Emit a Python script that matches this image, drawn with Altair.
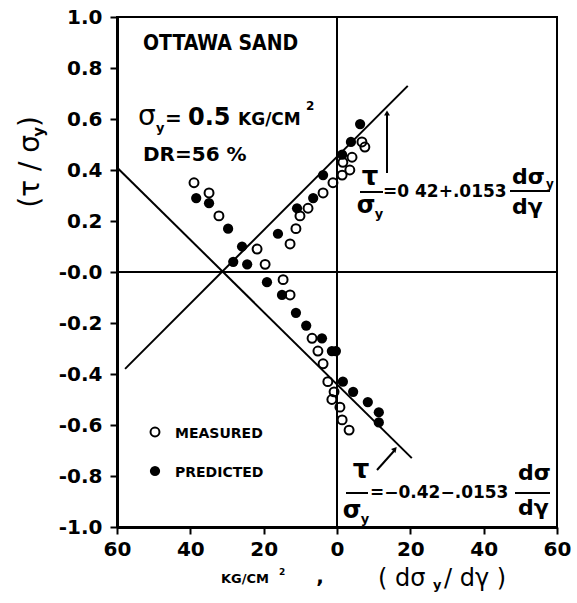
import altair as alt
import pandas as pd

# ---- data ----
meas_x = [-39.0, -34.9, -32.2, -21.8, -19.6, -12.8, -11.2, -10.1, -7.9, -3.8, -1.1, 1.4, 1.6, 3.5, 4.1, 6.8, 7.6,
          -14.7, -12.8, -6.8, -5.2, -3.8, -2.5, -0.8, -1.4, 0.8, 1.4, 3.3]
meas_y = [0.35, 0.31, 0.22, 0.09, 0.03, 0.11, 0.17, 0.22, 0.25, 0.31, 0.35, 0.38, 0.43, 0.40, 0.45, 0.51, 0.49,
          -0.03, -0.09, -0.26, -0.31, -0.36, -0.43, -0.47, -0.50, -0.53, -0.58, -0.62]
pred_x = [-38.4, -34.9, -29.7, -25.9, -28.3, -24.5, -16.1, -10.9, -6.5, -3.8, 1.4, 3.8, 6.3,
          -19.1, -15.0, -11.2, -8.4, -4.1, -1.4, -0.3, 1.6, 4.4, 8.4, 11.4, 11.4]
pred_y = [0.29, 0.27, 0.17, 0.10, 0.04, 0.03, 0.15, 0.25, 0.29, 0.38, 0.46, 0.51, 0.58,
          -0.04, -0.09, -0.16, -0.21, -0.26, -0.31, -0.31, -0.43, -0.47, -0.51, -0.55, -0.59]
upper_x = [-57.8, 19.3]
upper_y = [-0.38, 0.73]
lower_x = [-60.0, 20.4]
lower_y = [0.41, -0.73]
x_ticks = [-60, -40, -20, 0, 20, 40, 60]
y_ticks = [-1.0, -0.8, -0.6, -0.4, -0.2, 0.0, 0.2, 0.4, 0.6, 0.8, 1.0]

FONT = "DejaVu Sans"
W, H = 440, 510

df_m = pd.DataFrame({"x": meas_x, "y": meas_y})
df_p = pd.DataFrame({"x": pred_x, "y": pred_y})
df_u = pd.DataFrame({"x": upper_x, "y": upper_y})
df_l = pd.DataFrame({"x": lower_x, "y": lower_y})
one = pd.DataFrame({"a": [0]})

xscale = alt.Scale(domain=[-60, 60], nice=False, zero=False)
yscale = alt.Scale(domain=[-1, 1], nice=False, zero=False)

xaxis = alt.Axis(values=x_ticks, labelExpr="'' + abs(datum.value)", title=None, grid=False,
                 domainWidth=3, domainColor="black", tickColor="black", tickWidth=2, tickSize=7,
                 labelFont=FONT, labelFontSize=20, labelFontWeight="bold", labelColor="black",
                 labelPadding=5, labelFlush=False, labelOverlap=False)
yaxis = alt.Axis(values=y_ticks,
                 labelExpr="datum.value == 0 ? '-0.0' : (datum.value < 0 ? '-' + format(abs(datum.value), '.1f') : format(datum.value, '.1f'))",
                 title=None, grid=False,
                 domainWidth=3, domainColor="black", tickColor="black", tickWidth=2, tickSize=7,
                 labelFont=FONT, labelFontSize=20, labelFontWeight="bold", labelColor="black",
                 labelPadding=8, labelFlush=False, labelOverlap=False)

X = alt.X("x:Q", scale=xscale, axis=xaxis)
Y = alt.Y("y:Q", scale=yscale, axis=yaxis)

line_u = alt.Chart(df_u).mark_line(color="black", strokeWidth=2).encode(x=X, y=Y)
line_l = alt.Chart(df_l).mark_line(color="black", strokeWidth=2).encode(x=X, y=Y)

pts_m = alt.Chart(df_m).mark_point(filled=False, color="black", strokeWidth=2, size=80, opacity=1).encode(x=X, y=Y)
pts_p = alt.Chart(df_p).mark_circle(color="black", size=105, opacity=1).encode(x=X, y=Y)

zero_h = alt.Chart(one).mark_rule(color="black", strokeWidth=2).encode(y=alt.datum(0, scale=yscale), x=alt.value(0), x2=alt.value(W))
zero_v = alt.Chart(one).mark_rule(color="black", strokeWidth=2).encode(x=alt.datum(0, scale=xscale), y=alt.value(0), y2=alt.value(H))


def txt(s, x, y, size, align="left", baseline="middle", weight="bold", font=FONT, angle=0, style="normal"):
    return alt.Chart(one).mark_text(text=s, align=align, baseline=baseline, fontSize=size, fontWeight=weight,
                                    font=font, angle=angle, fontStyle=style, color="black").encode(
        x=alt.value(x), y=alt.value(y))


def bar(x1, x2, y):
    return alt.Chart(one).mark_rule(color="black", strokeWidth=2).encode(x=alt.value(x1), x2=alt.value(x2), y=alt.value(y))


ann = [
    txt("OTTAWA SAND", 26, 27, 21, font="DejaVu Sans Condensed"),
    txt("σ", 21, 108, 28, baseline="alphabetic", weight="normal"),
    txt("y", 39, 115, 13, baseline="alphabetic"),
    txt("=", 48, 108, 20, baseline="alphabetic"),
    txt("0.5", 71, 108, 24, baseline="alphabetic"),
    txt("KG/CM", 121, 108, 17, baseline="alphabetic"),
    txt("2", 189, 93, 12, baseline="alphabetic"),
    txt("DR=56 %", 26, 138, 20),
    # legend
    txt("MEASURED", 58, 417, 14),
    txt("PREDICTED", 58, 456, 14),
    # upper equation
    txt("τ", 253, 160, 26, align="center"),
    txt("σ", 249, 189, 24, align="center"),
    txt("y", 262, 197, 13, align="center"),
    txt("=0 42+.0153", 266, 175, 17),
    txt("dσ", 395, 160, 22),
    txt("y", 429, 167, 12),
    txt("dγ", 395, 190, 22),
    # lower equation
    txt("τ", 244, 453, 26, align="center"),
    txt("σ", 235, 494, 24, align="center"),
    txt("y", 248, 502, 13, align="center"),
    txt("=−0.42−.0153", 253, 476, 17),
    txt("dσ", 401, 456, 22),
    txt("dγ", 401, 491, 22),
    # y title
    txt("(τ / σ", -86, 118, 28, align="right", angle=270, weight="normal"),
    txt("y", -78, 110, 15, align="right", angle=270),
    txt(")", -86, 99, 28, align="right", angle=270, weight="normal"),
    # x title
    txt("KG/CM", 128, 562, 13, align="center"),
    txt("2", 162, 555, 9, align="left"),
    txt(",", 203, 560, 20, align="center"),
    txt("( dσ", 261, 562, 24, weight="normal"),
    txt("y", 316, 568, 13),
    txt("/ dγ )", 327, 562, 24, weight="normal"),
]
bars = [bar(243, 266, 175), bar(393, 433, 174), bar(229, 251, 476), bar(398, 433, 476)]

legend_open = alt.Chart(one).mark_point(filled=False, color="black", strokeWidth=2, size=80, opacity=1).encode(x=alt.value(38), y=alt.value(415))
legend_fill = alt.Chart(one).mark_circle(color="black", size=105, opacity=1).encode(x=alt.value(38), y=alt.value(454))

arrow1 = alt.Chart(one).mark_rule(color="black", strokeWidth=2).encode(x=alt.value(270), y=alt.value(156), y2=alt.value(97))
head1 = alt.Chart(one).mark_point(shape="triangle-up", filled=True, color="black", size=35, opacity=1).encode(x=alt.value(270), y=alt.value(96))
arrow2 = alt.Chart(one).mark_rule(color="black", strokeWidth=2).encode(x=alt.value(260), y=alt.value(453), x2=alt.value(277), y2=alt.value(434))
head2 = alt.Chart(one).mark_point(shape="triangle-up", filled=True, color="black", size=35, opacity=1, angle=42).encode(x=alt.value(278), y=alt.value(432))

chart = alt.layer(
    pts_m, line_u, line_l, pts_p, zero_h, zero_v,
    legend_open, legend_fill, arrow1, head1, arrow2, head2,
    *bars, *ann
).properties(
    width=W, height=H,
    autosize=alt.AutoSizeParams(type="none"),
    padding={"left": 117, "top": 17, "right": 20, "bottom": 76},
    background="white",
).configure_view(stroke="black", strokeWidth=2)

chart.save("out.html", embed_options={"renderer": "svg", "actions": False})
